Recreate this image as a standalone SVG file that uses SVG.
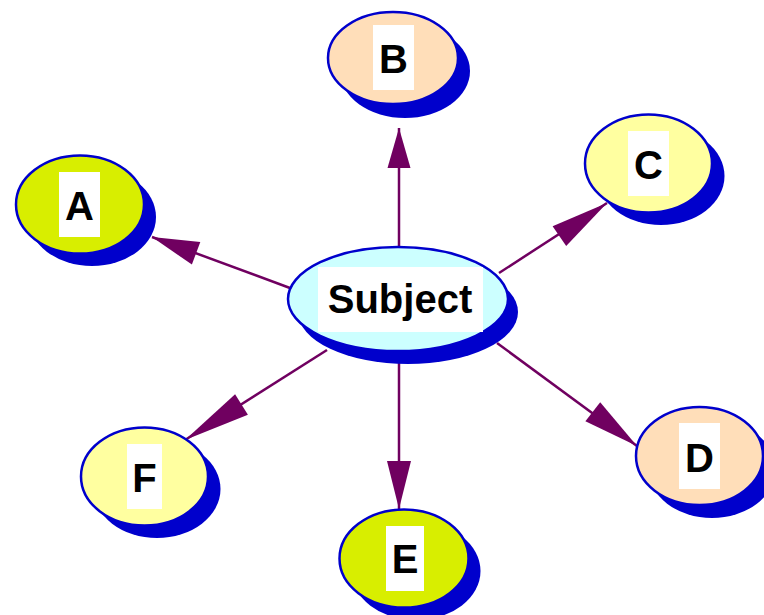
<svg xmlns="http://www.w3.org/2000/svg" width="764" height="615" viewBox="0 0 764 615">
<style>
.sh{fill:#0000CC;stroke:none}
.ol{stroke:#0000CC;stroke-width:2.5}
.lb{fill:#FFFFFF}
.tx{font-family:"Liberation Sans",Arial,sans-serif;font-weight:bold;font-size:40px;fill:#000000;text-anchor:middle}
.ln{stroke:#700060;stroke-width:2.5;fill:none}
.ah{fill:#700060}
</style>
<rect width="764" height="615" fill="#FFFFFF"/>
<g id="connectors">
<line class="ln" x1="290" y1="288" x2="152" y2="237"/>
<polygon class="ah" points="152,237 200.3,242 191.9,264.6"/>
<line class="ln" x1="399" y1="247" x2="399" y2="128"/>
<polygon class="ah" points="399,128 410.5,168 387.5,168"/>
<line class="ln" x1="499" y1="273" x2="607" y2="203"/>
<polygon class="ah" points="607,203 566.2,245.9 552.6,226.3"/>
<line class="ln" x1="497" y1="343" x2="637" y2="446"/>
<polygon class="ah" points="637,446 600.2,402.2 585.4,421.2"/>
<line class="ln" x1="399" y1="355" x2="399" y2="509"/>
<polygon class="ah" points="399,509 411,461 387,461"/>
<line class="ln" x1="327" y1="350" x2="185" y2="440"/>
<polygon class="ah" points="185,440 247.9,414.7 235.1,394.3"/>
</g>
<g id="node-subject">
<ellipse class="sh" cx="408" cy="312" rx="110" ry="52"/>
<ellipse class="ol" cx="398" cy="299" rx="110" ry="52" fill="#CCFFFF"/>
<rect class="lb" x="318" y="267" width="165" height="65"/>
<text class="tx" x="400" y="313">Subject</text>
</g>
<g id="node-a">
<ellipse class="sh" cx="92" cy="217" rx="64" ry="49"/>
<ellipse class="ol" cx="80" cy="204.5" rx="64" ry="49" fill="#D8EE00"/>
<rect class="lb" x="59" y="172" width="41" height="65"/>
<text class="tx" x="79.5" y="220">A</text>
</g>
<g id="node-b">
<ellipse class="sh" cx="405" cy="71" rx="65" ry="47"/>
<ellipse class="ol" cx="393" cy="58" rx="65" ry="46" fill="#FFDEB9"/>
<rect class="lb" x="373" y="25" width="41" height="65"/>
<text class="tx" x="393.5" y="73">B</text>
</g>
<g id="node-c">
<ellipse class="sh" cx="661" cy="176" rx="63.5" ry="49"/>
<ellipse class="ol" cx="648.5" cy="163.5" rx="63.5" ry="49" fill="#FFFFA0"/>
<rect class="lb" x="628" y="131" width="41" height="65"/>
<text class="tx" x="648.5" y="179">C</text>
</g>
<g id="node-d">
<ellipse class="sh" cx="712" cy="469" rx="63.5" ry="49"/>
<ellipse class="ol" cx="699.5" cy="456" rx="63.5" ry="49" fill="#FFDEB9"/>
<rect class="lb" x="679" y="423" width="41" height="66"/>
<text class="tx" x="699.5" y="472">D</text>
</g>
<g id="node-e">
<ellipse class="sh" cx="416" cy="571" rx="64.5" ry="49"/>
<ellipse class="ol" cx="404" cy="558.5" rx="64.5" ry="49" fill="#D8EE00"/>
<rect class="lb" x="386" y="526" width="38" height="65"/>
<text class="tx" x="405" y="573">E</text>
</g>
<g id="node-f">
<ellipse class="sh" cx="157" cy="489" rx="63.5" ry="49"/>
<ellipse class="ol" cx="144.5" cy="476.5" rx="63.5" ry="49" fill="#FFFFA0"/>
<rect class="lb" x="127" y="444" width="35" height="65"/>
<text class="tx" x="144.5" y="492">F</text>
</g>
</svg>
